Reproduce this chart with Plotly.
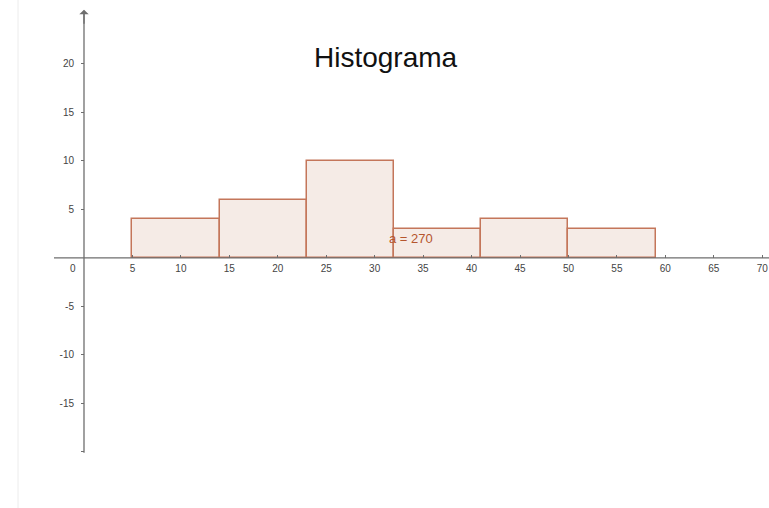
import plotly.graph_objects as go

# Data
bin_edges = [5, 14, 23, 32, 41, 50, 59]
frequencies = [4, 6, 10, 3, 4, 3]
area_label = "a = 270"
title_text = "Histograma"
x_tick_vals = [5, 10, 15, 20, 25, 30, 35, 40, 45, 50, 55, 60, 65, 70]
y_tick_vals = [-20, -15, -10, -5, 5, 10, 15, 20]
y_tick_text = ["", "-15", "-10", "-5", "5", "10", "15", "20"]

centers = [(a + b) / 2 for a, b in zip(bin_edges[:-1], bin_edges[1:])]
widths = [b - a for a, b in zip(bin_edges[:-1], bin_edges[1:])]

W, H = 769, 508
x_range = [-8.67, 70.7]
y_range = [-25.8, 26.6]
x_pos = (0 - y_range[0]) / (y_range[1] - y_range[0])
y_pos = (0 - x_range[0]) / (x_range[1] - x_range[0])

axis_col = "#6e6e6e"
tick_font = dict(family="Liberation Sans, Arial, sans-serif", size=10, color="#444")

fig = go.Figure()
fig.add_trace(go.Bar(
    x=centers, y=frequencies, width=widths,
    marker=dict(color="rgba(242,228,222,0.75)", line=dict(color="#c4765a", width=1.5)),
    hoverinfo="skip", showlegend=False,
))

fig.update_layout(
    width=W, height=H,
    margin=dict(l=0, r=0, t=0, b=0),
    paper_bgcolor="white", plot_bgcolor="white",
    bargap=0,
    xaxis=dict(range=x_range, anchor="free", position=x_pos, showgrid=False, zeroline=False,
               showline=False, tickvals=x_tick_vals, ticks="inside", ticklen=3,
               tickcolor=axis_col, tickfont=tick_font, fixedrange=True, ticklabelstandoff=3),
    yaxis=dict(range=y_range, anchor="free", position=y_pos, showgrid=False, zeroline=False,
               showline=False, tickvals=y_tick_vals, ticktext=y_tick_text, ticks="outside",
               ticklen=3, tickcolor=axis_col, tickfont=tick_font, fixedrange=True,
               ticklabelstandoff=5),
    font=dict(family="Liberation Sans, Arial, sans-serif"),
)

# Axis lines
fig.add_shape(type="line", x0=-3.1, x1=71, y0=0, y1=0, line=dict(color=axis_col, width=1.3), layer="above")
fig.add_shape(type="line", x0=0, x1=0, y0=-20.1, y1=25.5, line=dict(color=axis_col, width=1.3), layer="above")
# faint left border
fig.add_shape(type="line", xref="paper", yref="paper", x0=18 / W, x1=18 / W, y0=0, y1=1,
              line=dict(color="#ececec", width=1))

# Arrow at top of y-axis
fig.add_annotation(x=0, y=25.6, ax=0, ay=24.0, xref="x", yref="y", axref="x", ayref="y",
                   showarrow=True, arrowhead=1, arrowsize=1.2, arrowwidth=1.3,
                   arrowcolor=axis_col, text="")

# Origin label
fig.add_annotation(x=-1.1, y=0, xref="x", yref="y", text="0", showarrow=False,
                   xanchor="center", yanchor="top", yshift=-3, font=tick_font)

# Title
fig.add_annotation(x=31.2, y=20.7, xref="x", yref="y", text=title_text, showarrow=False,
                   xanchor="center", yanchor="middle",
                   font=dict(family="Liberation Sans, Arial, sans-serif", size=28, color="#111"))

# Area label
fig.add_annotation(x=31.3, y=2.0, xref="x", yref="y", text=area_label, showarrow=False,
                   xanchor="left", yanchor="middle",
                   font=dict(family="Liberation Sans, Arial, sans-serif", size=13, color="#b5562e"))

fig.write_html("out.html", config={"displayModeBar": False},
               post_script="document.body.style.margin='0';document.body.style.overflow='hidden';")
